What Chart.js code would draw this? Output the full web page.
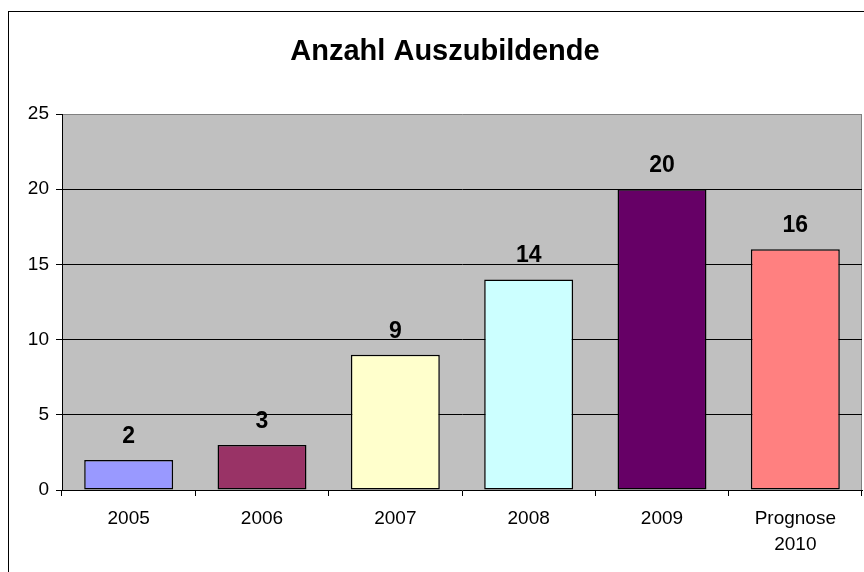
<!DOCTYPE html>
<html>
<head>
<meta charset="utf-8">
<script src="https://cdn.jsdelivr.net/npm/chart.js@4"></script>
<style>
  html, body { margin: 0; padding: 0; background: #fff; }
  #wrap { width: 864px; height: 572px; }
</style>
</head>
<body>
<div id="wrap"><canvas id="chart1" width="864" height="572"></canvas></div>
<script>
/* data */
const categories = ['2005', '2006', '2007', '2008', '2009', ['Prognose', '2010']];
const azubis = [2, 3, 9, 14, 20, 16];
const barColors = ['#9999FF', '#993366', '#FFFFCC', '#CCFFFF', '#660066', '#FF8080'];
const yTicks = [0, 5, 10, 15, 20, 25];
const chartTitle = 'Anzahl Auszubildende';

const FONT = '"Liberation Sans", Arial, sans-serif';

/* frame, plot background, title */
const excelLook = {
  id: 'excelLook',
  beforeDraw(chart) {
    const { ctx, chartArea: a } = chart;
    ctx.save();
    ctx.fillStyle = '#fff';
    ctx.fillRect(0, 0, chart.width, chart.height);
    ctx.strokeStyle = '#000';
    ctx.lineWidth = 1;
    ctx.strokeRect(8.5, 11.5, chart.width + 20, chart.height + 20);
    ctx.fillStyle = '#C0C0C0';
    ctx.fillRect(a.left, a.top, a.right - a.left, a.bottom - a.top);
    ctx.strokeStyle = '#808080';
    ctx.beginPath();
    ctx.moveTo(a.right - 0.5, a.top);
    ctx.lineTo(a.right - 0.5, a.bottom);
    ctx.stroke();
    ctx.fillStyle = '#000';
    ctx.font = 'bold 29px ' + FONT;
    ctx.textAlign = 'center';
    ctx.textBaseline = 'alphabetic';
    ctx.fillText(chartTitle, 445, 60);
    ctx.restore();
  },
  afterDatasetsDraw(chart) {
    const { ctx } = chart;
    const meta = chart.getDatasetMeta(0);
    ctx.save();
    ctx.fillStyle = '#000';
    ctx.font = 'bold 23px ' + FONT;
    ctx.textAlign = 'center';
    ctx.textBaseline = 'alphabetic';
    meta.data.forEach((bar, i) => {
      ctx.fillText(String(azubis[i]), bar.x, bar.y - 17);
    });
    ctx.restore();
  }
};

const ctx1 = document.getElementById('chart1').getContext('2d');

const barChart = new Chart(ctx1, {
  type: 'bar',
  data: {
    labels: categories,
    datasets: [
      {
        data: azubis,
        backgroundColor: barColors,
        borderColor: '#000',
        borderWidth: 1.5,
        borderSkipped: false,
        categoryPercentage: 1,
        barPercentage: 0.667
      }
    ]
  },
  options: {
    responsive: false,
    animation: false,
    layout: { padding: { top: 114, right: 2, left: 0, bottom: 0 } },
    plugins: {
      legend: { display: false },
      title: { display: false },
      tooltip: { enabled: false }
    },
    scales: {
      x: {
        offset: true,
        afterFit(scale) { scale.height = 82; },
        grid: {
          offset: true,
          drawOnChartArea: false,
          drawTicks: true,
          tickLength: 6,
          tickColor: '#000'
        },
        border: { display: true, color: '#000', width: 1 },
        ticks: {
          color: '#000',
          font: { family: FONT, size: 19, lineHeight: 1.37 },
          padding: 10,
          maxRotation: 0,
          autoSkip: false
        }
      },
      y: {
        min: 0,
        max: 25,
        afterFit(scale) { scale.width = 62; },
        afterBuildTicks(scale) {
          scale.ticks = yTicks.map(v => ({ value: v }));
        },
        grid: {
          color: c => (c.tick.value === 0 ? 'rgba(0,0,0,0)' : c.tick.value === 25 ? '#808080' : '#000'),
          tickColor: '#000',
          tickLength: 6,
          lineWidth: 1
        },
        border: { display: true, color: '#000', width: 1 },
        ticks: {
          color: '#000',
          font: { family: FONT, size: 19 },
          padding: 7
        }
      }
    }
  },
  plugins: [excelLook]
});
</script>
</body>
</html>
